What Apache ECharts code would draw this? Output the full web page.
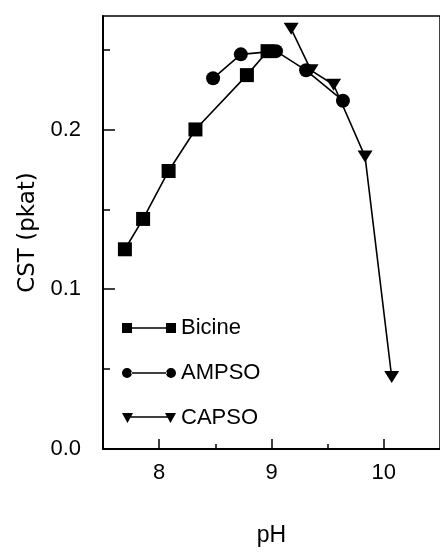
<!DOCTYPE html>
<html>
<head>
<meta charset="utf-8">
<script src="https://cdn.jsdelivr.net/npm/echarts@6/dist/echarts.min.js"></script>
<style>html,body{margin:0;padding:0;background:#fff}#c{width:440px;height:552px}</style>
</head>
<body>
<div id="c"></div>
<script>
// ---- data ----
const bicinePH   = [7.695, 7.857, 8.084, 8.323, 8.781, 8.965];
const bicineCST  = [0.125, 0.144, 0.174, 0.200, 0.234, 0.249];
const ampsoPH    = [8.480, 8.727, 9.040, 9.308, 9.636];
const ampsoCST   = [0.232, 0.247, 0.249, 0.237, 0.218];
const capsoPH    = [9.175, 9.352, 9.553, 9.833, 10.07];
const capsoCST   = [0.263, 0.237, 0.228, 0.183, 0.045];
const xMajorTicks = [8, 9, 10];
const xMinorTicks = [8.5, 9.5];
const yMajorTicks = [0, 0.1, 0.2];
const yMinorTicks = [0.05, 0.15, 0.25];
const seriesNames = ['Bicine', 'AMPSO', 'CAPSO'];

const pairs = (xs, ys) => xs.map((x, i) => [x, ys[i]]);
const FONT = '"Liberation Sans", Arial, Helvetica, sans-serif';

const iconSquares = 'path://M0,0h10v10h-10z M10,4.3h34v1.4h-34z M44,0h10v10h-10z';
const iconCircles = 'path://M0,5a5,5 0 1,0 10,0a5,5 0 1,0 -10,0z M9,4.3h36v1.4h-36z M44,5a5,5 0 1,0 10,0a5,5 0 1,0 -10,0z';
const iconTris = 'path://M0,0L11,0L5.5,10z M8,3.3h38v1.4h-38z M43,0L54,0L48.5,10z';

const chart = echarts.init(document.getElementById('c'), null, {renderer: 'canvas'});
const axisLine = {show: true, lineStyle: {color: '#000', width: 2}};
const option = {
  animation: false,
  backgroundColor: '#fff',
  textStyle: {fontFamily: FONT, color: '#000'},
  grid: {show: true, borderColor: '#000', borderWidth: 1.5, left: 103, top: 16, right: -3, bottom: 93, containLabel: false},
  legend: {
    orient: 'vertical', left: 117, top: 312,
    itemWidth: 54, itemHeight: 10, itemGap: 23,
    textStyle: {fontSize: 22, color: '#000', fontFamily: FONT, lineHeight: 22},
    data: [
      {name: seriesNames[0], icon: iconSquares},
      {name: seriesNames[1], icon: iconCircles},
      {name: seriesNames[2], icon: iconTris}
    ]
  },
  xAxis: [
    {
      type: 'value', min: 7.5, max: 10.5, position: 'bottom',
      name: 'pH', nameLocation: 'middle', nameGap: 75,
      nameTextStyle: {fontSize: 23, color: '#000', fontFamily: FONT},
      axisLine: axisLine,
      axisTick: {show: true, inside: true, length: 10, customValues: xMajorTicks, lineStyle: {color: '#000', width: 1.5}},
      axisLabel: {show: true, customValues: xMajorTicks, fontSize: 22, color: '#000', margin: 13, fontFamily: FONT},
      splitLine: {show: false}
    },
    {
      type: 'value', min: 7.5, max: 10.5, position: 'bottom',
      axisLine: {show: false},
      axisTick: {show: true, inside: true, length: 5, customValues: xMinorTicks, lineStyle: {color: '#000', width: 1.5}},
      axisLabel: {show: false},
      splitLine: {show: false}
    }
  ],
  yAxis: [
    {
      type: 'value', min: 0, max: 0.271, position: 'left',
      name: 'CST (pkat)', nameLocation: 'middle', nameGap: 60,
      nameTextStyle: {fontSize: 23, color: '#000', fontFamily: '"DejaVu Sans", sans-serif'},
      axisLine: axisLine,
      axisTick: {show: true, inside: true, length: 12, customValues: yMajorTicks, lineStyle: {color: '#000', width: 1.5}},
      axisLabel: {show: true, customValues: yMajorTicks, fontSize: 22, color: '#000', margin: 22, fontFamily: FONT,
                  formatter: v => Number(v).toFixed(1)},
      splitLine: {show: false}
    },
    {
      type: 'value', min: 0, max: 0.271, position: 'left',
      axisLine: {show: false},
      axisTick: {show: true, inside: true, length: 7, customValues: yMinorTicks, lineStyle: {color: '#000', width: 1.5}},
      axisLabel: {show: false},
      splitLine: {show: false}
    }
  ],
  series: [
    {
      name: seriesNames[0], type: 'line', data: pairs(bicinePH, bicineCST),
      symbol: 'rect', symbolSize: 14,
      lineStyle: {color: '#000', width: 1.6}, itemStyle: {color: '#000'}
    },
    {
      name: seriesNames[1], type: 'line', data: pairs(ampsoPH, ampsoCST),
      symbol: 'circle', symbolSize: 14,
      lineStyle: {color: '#000', width: 1.6}, itemStyle: {color: '#000'}
    },
    {
      name: seriesNames[2], type: 'line', data: pairs(capsoPH, capsoCST),
      symbol: 'triangle', symbolRotate: 180, symbolSize: [15, 12],
      lineStyle: {color: '#000', width: 1.6}, itemStyle: {color: '#000'}
    }
  ]
};
chart.setOption(option);
</script>
</body>
</html>
